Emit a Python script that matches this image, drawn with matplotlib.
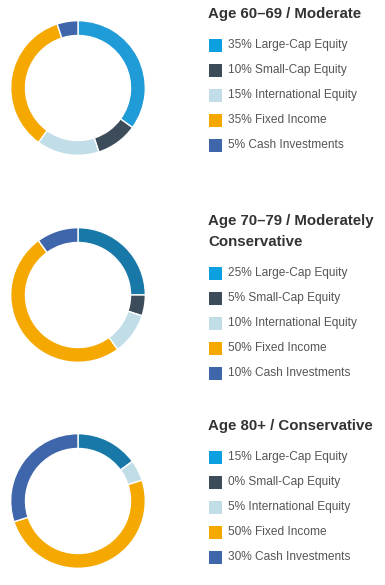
"""
Retirement allocation donuts - three age brackets, legend on the right
"""
import matplotlib
matplotlib.use('Agg')
import matplotlib.pyplot as plt
from matplotlib.patches import Rectangle

plt.rcParams['font.family'] = ['Liberation Sans', 'DejaVu Sans']

# data
titles = [
    ["Age 60–69 / Moderate"],
    ["Age 70–79 / Moderately", "Conservative"],
    ["Age 80+ / Conservative"],
]
categories = ["Large-Cap Equity", "Small-Cap Equity", "International Equity",
              "Fixed Income", "Cash Investments"]
alloc_60s = [35, 10, 15, 35, 5]
alloc_70s = [25, 5, 10, 50, 10]
alloc_80s = [15, 0, 5, 50, 30]
allocations = [alloc_60s, alloc_70s, alloc_80s]

legend_colors = ['#0da0e0', '#3d4c5a', '#c0dde8', '#f5a800', '#3f66aa']
# the large-cap slice is a darker blue in the lower two donuts
large_cap_ring = ['#1f9bd7', '#1878a8', '#1878a8']

W, H = 385, 585
fig = plt.figure(figsize=(W / 100, H / 100), dpi=100)

# overlay axes in pixel units for titles and legend
lay = fig.add_axes([0, 0, 1, 1])
lay.set_xlim(0, W)
lay.set_ylim(H, 0)
lay.axis('off')

donut_centers = [(78, 88), (78, 295), (78, 501)]
radius = 68
title_tops = [14, 221, 426]

for i, values in enumerate(allocations):
    cx, cy = donut_centers[i]
    ax = fig.add_axes([(cx - radius) / W, 1 - (cy + radius) / H,
                       2 * radius / W, 2 * radius / H])
    cols = [large_cap_ring[i]] + legend_colors[1:]
    ax.pie(values, colors=cols, startangle=90, counterclock=False,
           wedgeprops=dict(width=0.22, edgecolor='white', linewidth=1.0))
    ax.set_xlim(-1.01, 1.01)
    ax.set_ylim(-1.01, 1.01)
    ax.set_aspect('equal')
    ax.axis('off')

    # title (one or two lines)
    y = title_tops[i]
    for line in titles[i]:
        lay.text(208, y, line, fontsize=10.85, fontweight='bold',
                 color='#333333', va='center', ha='left')
        y += 21

    # legend rows
    y += 10
    for j, cat in enumerate(categories):
        lay.add_patch(Rectangle((209, y - 6.5), 13, 13,
                                facecolor=legend_colors[j], edgecolor='none'))
        lay.text(228, y, f"{values[j]}% {cat}", fontsize=8.6,
                 color='#555555', va='center', ha='left')
        y += 25

fig.savefig('out.png', dpi=100)
plt.close(fig)
